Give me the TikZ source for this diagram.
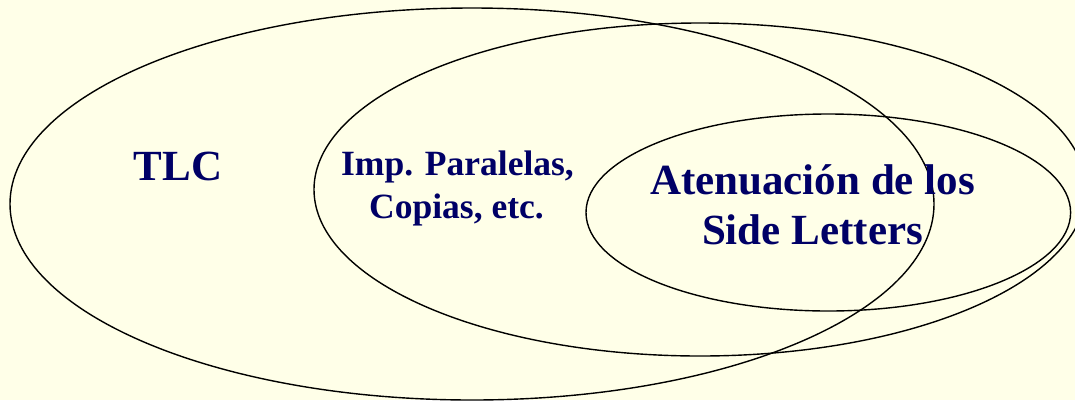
\documentclass[tikz,border=0pt]{standalone}
\usepackage{fontspec}
\setmainfont{Liberation Serif}
\definecolor{bgyellow}{HTML}{FFFFE8}
\definecolor{navytext}{HTML}{000066}
\begin{document}
\begin{tikzpicture}[x=1pt,y=-1pt,
  setline/.style={draw=black,line width=1.4pt},
  biglabel/.style={anchor=base,inner sep=0pt,text=navytext,font=\bfseries\fontsize{43}{50}\selectfont},
  midlabel/.style={anchor=base,inner sep=0pt,text=navytext,font=\bfseries\fontsize{35.5}{43}\selectfont}]
\fill[bgyellow] (0,0) rectangle (1075,400);
\useasboundingbox (0,0) rectangle (1075,400);
\begin{scope}
\clip (0,0) rectangle (1075,400);
\draw[setline] (472,204) ellipse [x radius=462, y radius=196];
\draw[setline] (700,189.5) ellipse [x radius=386, y radius=166.5];
\draw[setline] (828.3,212.5) ellipse [x radius=242.3, y radius=98.5];
\end{scope}
\node[biglabel] (tlc) at (178,180) {TLC};
\node[midlabel] (imp1) at (457.5,175) {Imp. Paralelas,};
\node[midlabel] (imp2) at (456.5,218) {Copias, etc.};
\node[biglabel] (ate1) at (812.5,194) {Atenuación de los};
\node[biglabel] (ate2) at (812.5,244) {Side Letters};
\end{tikzpicture}
\end{document}
